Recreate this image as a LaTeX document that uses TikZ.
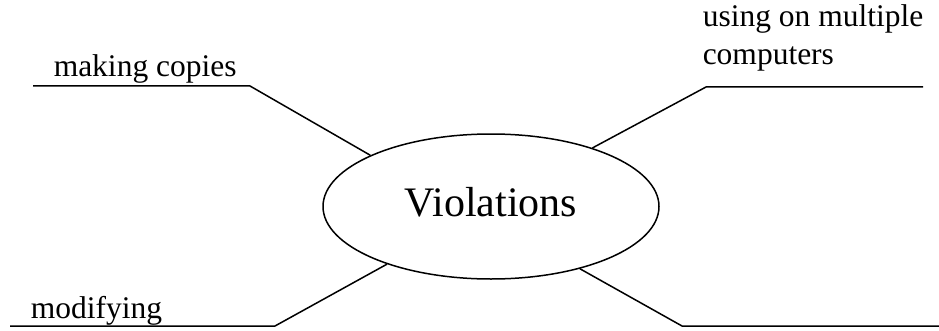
\documentclass[tikz,border=0pt]{standalone}
\usepackage{fontspec}
\setmainfont{Liberation Serif}
\usetikzlibrary{shapes.geometric}
\newcommand{\lblfont}{\fontsize{31.5}{38}\selectfont}
\newcommand{\midfont}{\fontsize{42}{50}\selectfont}

\begin{document}
\begin{tikzpicture}[x=1pt, y=1pt, line width=1.5pt,
	lbl/.style={anchor=base west, inner sep=0pt, font=\lblfont},
	hub/.style={draw, ellipse, inner sep=0pt, minimum width=336pt, minimum height=145pt, font=\midfont, text height=19pt, text depth=0pt}]
		%%%%% START %%%%%
		\useasboundingbox (0, 0) rectangle (939, 330);
		
		\node[hub] (viol) at (491, 123.5) {Violations};
		
		\node[lbl] (copies) at (53, 253) {making copies};
		\node[lbl] (multi) at (702, 303) {using on multiple};
		\node[lbl] (comp) at ([yshift=-38pt]multi.base west) {computers};
		\node[lbl] (modif) at (30, 12) {modifying};
		
		\coordinate (copiesL) at (33, 244);
		\coordinate (copiesR) at (250, 244);
		\coordinate (multiL) at (706, 243);
		\coordinate (multiR) at (923, 243);
		\coordinate (modifL) at (10, 4);
		\coordinate (modifR) at (275, 4);
		\coordinate (blankL) at (682, 4);
		\coordinate (blankR) at (939, 4);
		
		\draw (copiesL) -- (copiesR) -- (viol.157);
		\draw (multiR) -- (multiL) -- (viol.30);
		\draw (modifL) -- (modifR) -- (viol.209);
		\draw (blankR) -- (blankL) -- (viol.325);
		%%%%% END %%%%%
\end{tikzpicture}
\end{document}
